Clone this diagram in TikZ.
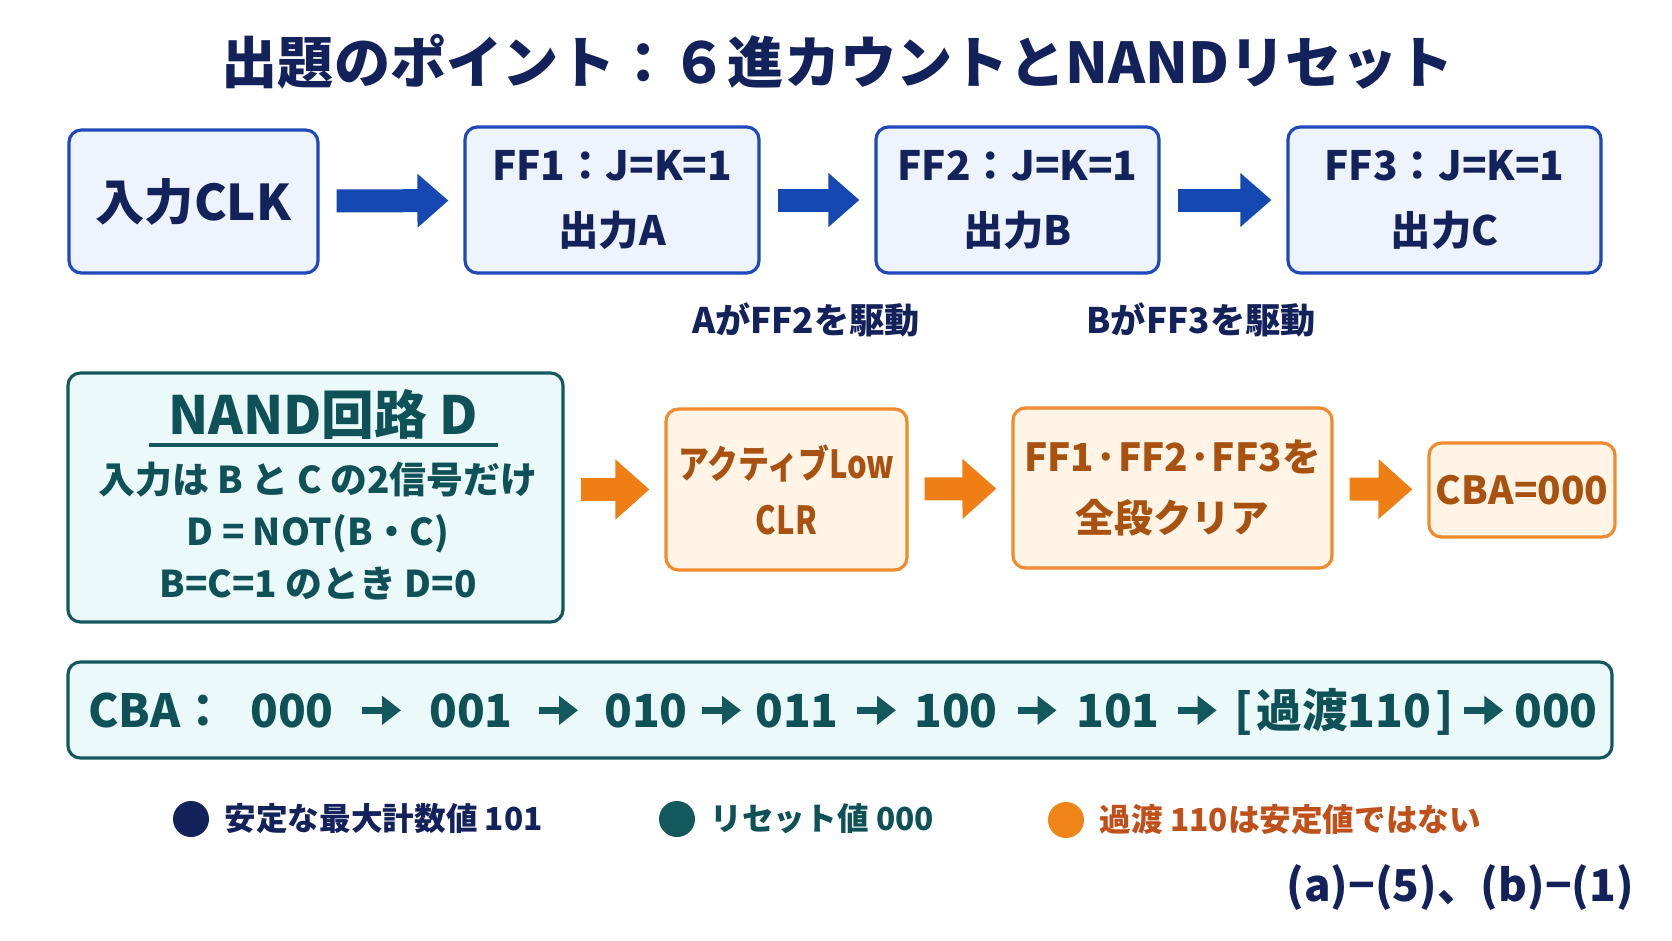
\documentclass[tikz,border=0pt]{standalone}
\usepackage{fontspec}
\setmainfont{Noto Sans CJK JP}
\newfontfamily\schmalfont{Noto Sans CJK JP}[FakeStretch=0.8]
\usepackage{xcolor}
\usepackage{tikz}
\usetikzlibrary{positioning, arrows.meta, calc}

\definecolor{navy}{HTML}{14225C}
\definecolor{blaulinie}{HTML}{1F48B8}
\definecolor{blaufill}{HTML}{EEF4FD}
\definecolor{blaupfeil}{HTML}{1548B0}
\definecolor{petrol}{HTML}{13585C}
\definecolor{petrolfill}{HTML}{ECF9FA}
\definecolor{petroltext}{HTML}{0E5157}
\definecolor{orlinie}{HTML}{F08A2C}
\definecolor{orfill}{HTML}{FFF4E6}
\definecolor{ortext}{HTML}{A9520F}
\definecolor{orpfeil}{HTML}{EF7F14}
\definecolor{orpunkt}{HTML}{EF8516}
\definecolor{orrot}{HTML}{C0501A}

\tikzset{
    block/.style    = {draw, rounded corners=7pt, line width=1.8pt, align=center, inner sep=0pt},
    ffbox/.style    = {block, draw=blaulinie, fill=blaufill, text=navy, minimum height=2.92cm,
                       font=\fontsize{23}{37}\selectfont\bfseries},
    nandbox/.style  = {block, draw=petrol, fill=petrolfill},
    clrbox/.style   = {block, draw=orlinie, fill=orfill, text=ortext, minimum height=3.2cm,
                       font=\fontsize{22}{33}\selectfont\bfseries},
    seqbox/.style   = {block, draw=petrol, fill=petrolfill},
    takt/.style     = {-{Triangle[length=0.62cm, width=1.04cm]}, line width=0.46cm, draw=blaupfeil,
                       shorten <=0.34cm, shorten >=0.3cm},
    reset/.style    = {-{Triangle[length=0.68cm, width=1.16cm]}, line width=0.46cm, draw=orpfeil,
                       shorten <=0.32cm, shorten >=0.3cm},
    folge/.style    = {-{Triangle[length=0.38cm, width=0.56cm]}, line width=0.14cm, draw=petrol}
}

\begin{document}
\begin{tikzpicture}[x=1cm, y=1cm,
        zustand/.style = {anchor=base, inner sep=0pt, text height=21pt, text depth=2pt,
                          text=petroltext, font=\fontsize{26}{30}\selectfont\bfseries},
        treiber/.style = {text=navy, inner sep=0pt, font=\fontsize{20}{24}\selectfont\bfseries},
        punkt/.style   = {circle, minimum size=0.72cm, inner sep=0pt},
        legende/.style = {anchor=west, inner sep=0pt, font=\fontsize{18}{22}\selectfont\bfseries}]

    \useasboundingbox (0,0) rectangle (33.44,-18.82);

    % Titel
    \node[text=navy, font=\fontsize{32}{36}\selectfont\bfseries] (titel) at (16.76,-1.24)
        {出題のポイント：６進カウントとNANDリセット};

    % Obere Zeile: Takt und Flipflops
    \node[ffbox, minimum width=4.98cm, minimum height=2.86cm,
          font=\fontsize{28}{32}\selectfont\bfseries] (clk) at (3.87,-4.03) {入力CLK};
    \node[ffbox, minimum width=5.88cm] (ff1) at (12.24,-4.0) {FF1：J=K=1\\出力A};
    \node[ffbox, minimum width=5.66cm] (ff2) at (20.35,-4.0) {FF2：J=K=1\\出力B};
    \node[ffbox, minimum width=6.26cm] (ff3) at (28.89,-4.0) {FF3：J=K=1\\出力C};

    \draw[takt] (clk) -- (ff1);
    \draw[takt] (ff1) -- (ff2);
    \draw[takt] (ff2) -- (ff3);

    \node[treiber] (drv2) at (16.12,-6.40) {AがFF2を駆動};
    \node[treiber] (drv3) at (24.02,-6.40) {BがFF3を駆動};

    % Mittlere Zeile: NAND und Ruecksetzen
    \node[nandbox, minimum width=9.9cm, minimum height=4.98cm] (nand) at (6.31,-9.95) {};
    \node[text=petroltext, inner sep=0pt, font=\fontsize{30}{34}\selectfont\bfseries]
        (nandttl) at (6.46,-8.28) {NAND回路 D};
    \draw[petrol, line width=2.2pt] (2.98,-8.90) -- (9.96,-8.90);
    \node[text=petroltext, align=center, inner sep=0pt, font=\fontsize{21}{29.5}\selectfont\bfseries]
        (nandtxt) at (6.36,-10.62) {入力は B と C の2信号だけ\\D = NOT(B・C)\\B=C=1 のとき D=0};

    \node[clrbox, minimum width=4.82cm, minimum height=3.22cm, font=\fontsize{22}{32}\schmalfont\bfseries]
        (aktiv) at (15.73,-9.79) {アクティブLow\\CLR};
    \node[clrbox, minimum width=6.38cm, font=\fontsize{22}{35}\selectfont\bfseries]
        (alle) at (23.45,-9.76) {FF1·FF2·FF3を\\全段クリア};
    \node[clrbox, minimum width=3.72cm, minimum height=1.88cm] (null) at (30.44,-9.80) {CBA=000};

    \draw[reset] (nand.east |- aktiv) -- (aktiv);
    \draw[reset] (aktiv) -- (alle);
    \draw[reset] (alle) -- (null);

    % Zaehlfolge
    \node[seqbox, minimum width=30.88cm, minimum height=1.92cm] (folge) at (16.80,-14.20) {};
    \node[zustand, anchor=base west] (cba) at (1.76,-14.54) {CBA：};
    \node[zustand] (s0) at (5.84,-14.54)  {000};
    \node[zustand] (s1) at (9.42,-14.54)  {001};
    \node[zustand] (s2) at (12.92,-14.54) {010};
    \node[zustand] (s3) at (15.94,-14.54) {011};
    \node[zustand] (s4) at (19.12,-14.54) {100};
    \node[zustand] (s5) at (22.36,-14.54) {101};
    \node[zustand] (s6) at (26.88,-14.54) {[\hspace{0.08em}過渡110\hspace{0.08em}]};
    \node[zustand] (s7) at (31.12,-14.54) {000};

    \foreach \a/\b in {s0/s1, s1/s2, s2/s3, s3/s4, s4/s5, s5/s6, s6/s7}
        \draw[folge] ($(\a.east)!0.5!(\b.west)$) ++(-0.39,0) -- ++(0.78,0);

    % Legende
    \node[punkt, fill=navy] (p1) at (3.82,-16.38) {};
    \node[legende, text=navy, right=0.3cm of p1] (l1) {安定な最大計数値 101};
    \node[punkt, fill=petrol] (p2) at (13.54,-16.38) {};
    \node[legende, text=petroltext, right=0.3cm of p2] (l2) {リセット値 000};
    \node[punkt, fill=orpunkt] (p3) at (21.32,-16.40) {};
    \node[legende, text=orrot, right=0.3cm of p3] (l3) {過渡 110は安定値ではない};

    % Antwort
    \node[anchor=east, text=navy, inner sep=0pt, font=\fontsize{25}{29}\selectfont\bfseries]
        (antwort) at (32.68,-17.76) {(a)−(5)、(b)−(1)};
\end{tikzpicture}
\end{document}
